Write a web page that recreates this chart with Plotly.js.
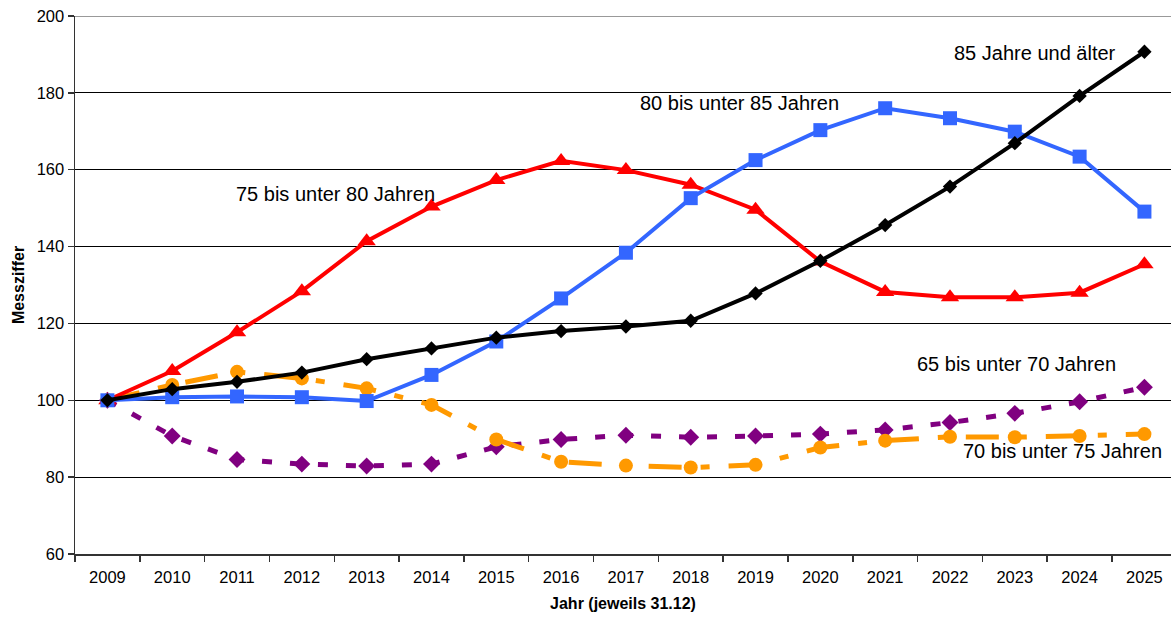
<!DOCTYPE html>
<html>
<head>
<meta charset="utf-8">
<script src="https://cdn.plot.ly/plotly-3.0.1.min.js"></script>
<style>
html,body{margin:0;padding:0;background:#fff;}
#chart{width:1171px;height:617px;}
</style>
</head>
<body>
<div id="chart"></div>
<script>
const years = ["2009","2010","2011","2012","2013","2014","2015","2016","2017","2018","2019","2020","2021","2022","2023","2024","2025"];
const age65_70 = [100,90.7,84.6,83.4,82.9,83.4,87.9,89.8,90.9,90.4,90.7,91.2,92.3,94.2,96.6,99.6,103.4];
const age70_75 = [100,104.0,107.4,105.7,103.1,98.8,89.8,84.0,83.0,82.5,83.2,87.7,89.5,90.5,90.4,90.7,91.2];
const age75_80 = [100,107.6,117.7,128.4,141.4,150.4,157.3,162.3,159.9,156.1,149.6,136.1,128.2,126.8,126.8,128.0,135.4];
const age80_85 = [100,100.8,101.0,100.8,99.8,106.6,115.3,126.5,138.4,152.6,162.5,170.3,176.0,173.4,169.9,163.4,149.1];
const age85plus = [100,102.9,104.8,107.2,110.7,113.5,116.3,118.0,119.2,120.7,127.8,136.3,145.6,155.6,166.9,179.2,190.7];

const labels = ["65 bis unter 70 Jahren","70 bis unter 75 Jahren","75 bis unter 80 Jahren","80 bis unter 85 Jahren","85 Jahre und älter"];
const yTicks = [60,80,100,120,140,160,180,200];

const FONT = "Liberation Sans, Arial, sans-serif";

const traces = [
  {x: years, y: age65_70, name: labels[0], type: "scatter", mode: "lines+markers",
   line: {color: "#800080", width: 5, dash: "10px,18px"},
   marker: {symbol: "diamond", size: 13, color: "#800080"}},
  {x: years, y: age70_75, name: labels[1], type: "scatter", mode: "lines+markers",
   line: {color: "#FF9900", width: 5, dash: "33px,19px,9px,19px"},
   marker: {symbol: "circle", size: 14, color: "#FF9900"}},
  {x: years, y: age75_80, name: labels[2], type: "scatter", mode: "lines+markers",
   line: {color: "#FF0000", width: 4},
   marker: {symbol: "triangle-up", size: 16, color: "#FF0000"}},
  {x: years, y: age80_85, name: labels[3], type: "scatter", mode: "lines+markers",
   line: {color: "#3366FF", width: 4},
   marker: {symbol: "square", size: 14, color: "#3366FF"}},
  {x: years, y: age85plus, name: labels[4], type: "scatter", mode: "lines+markers",
   line: {color: "#000000", width: 4},
   marker: {symbol: "diamond", size: 11, color: "#000000"}}
];

const layout = {
  width: 1171, height: 617,
  margin: {l: 75, r: 0, t: 16, b: 63},
  paper_bgcolor: "#ffffff", plot_bgcolor: "#ffffff",
  showlegend: false,
  font: {family: FONT, color: "#000"},
  xaxis: {
    type: "category",
    range: [-0.5, 16.41],
    tickson: "boundaries",
    ticks: "outside", ticklen: 6, tickwidth: 1.5, tickcolor: "#333",
    ticklabelstandoff: 8,
    showgrid: false, zeroline: false,
    showline: true, linecolor: "#333", linewidth: 1.5,
    tickfont: {family: FONT, size: 16.5, color: "#000"},
    title: {text: "Jahr (jeweils 31.12)", font: {family: FONT, size: 16, color: "#000", weight: "bold"}, standoff: 12}
  },
  yaxis: {
    range: [60, 200],
    tickvals: yTicks,
    ticktext: yTicks.map(String),
    ticks: "outside", ticklen: 6, tickwidth: 1.5, tickcolor: "#333",
    showgrid: true, gridcolor: "#000", gridwidth: 1,
    zeroline: false,
    showline: true, linecolor: "#333", linewidth: 1.5,
    tickfont: {family: FONT, size: 16.5, color: "#000"},
    title: {text: "Messziffer", font: {family: FONT, size: 16, color: "#000", weight: "bold"}, standoff: 8}
  },
  shapes: [
    {type: "line", xref: "paper", yref: "y", x0: 0, x1: 1, y0: 200, y1: 200,
     line: {color: "#999", width: 2}, layer: "above"}
  ],
  annotations: [
    {text: labels[4], xref: "paper", yref: "y", x: 0.876, y: 190.4, showarrow: false, xanchor: "center", yanchor: "middle", font: {family: FONT, size: 20, color: "#000"}},
    {text: labels[3], xref: "paper", yref: "y", x: 0.6063, y: 177.3, showarrow: false, xanchor: "center", yanchor: "middle", font: {family: FONT, size: 20, color: "#000"}},
    {text: labels[2], xref: "paper", yref: "y", x: 0.238, y: 153.6, showarrow: false, xanchor: "center", yanchor: "middle", font: {family: FONT, size: 20, color: "#000"}},
    {text: labels[0], xref: "paper", yref: "y", x: 0.8586, y: 109.4, showarrow: false, xanchor: "center", yanchor: "middle", font: {family: FONT, size: 20, color: "#000"}},
    {text: labels[1], xref: "paper", yref: "y", x: 0.901, y: 86.9, showarrow: false, xanchor: "center", yanchor: "middle", font: {family: FONT, size: 20, color: "#000"}}
  ]
};

Plotly.newPlot("chart", traces, layout, {displayModeBar: false, staticPlot: true});
</script>
</body>
</html>
